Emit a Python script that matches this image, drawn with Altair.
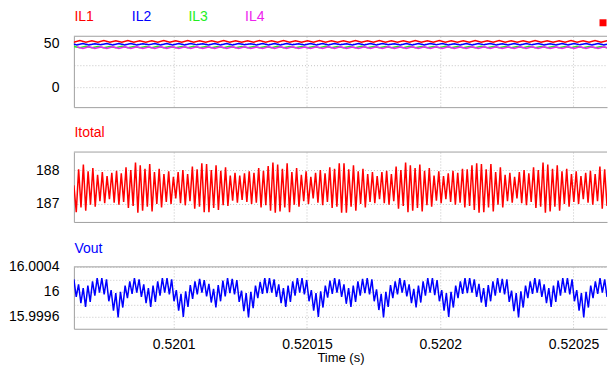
import altair as alt
import numpy as np
import pandas as pd

# ---------------- data ----------------
T_START = 0.52006255
T_END = 0.52026255
X_TICKS = [0.5201, 0.52015, 0.5202, 0.52025]

# inductor currents (alternating peak / trough), half-period spacing
IL_HALF_PERIOD = 2.2472e-6
IL1 = [52.9, 51.2, 53.0, 51.1, 52.8, 51.3, 53.0, 51.2, 52.9, 51.1,
       53.1, 51.2, 52.9, 51.3, 52.8, 51.2, 53.0, 51.1, 52.9, 51.2,
       53.0, 51.3, 52.8, 51.1, 52.9, 51.2, 53.1, 51.2, 52.9, 51.1,
       52.8, 51.3, 53.0, 51.2, 52.9, 51.1, 53.0, 51.2, 52.8, 51.3,
       52.9, 51.2, 53.1, 51.1, 52.9, 51.2, 52.8, 51.3, 53.0, 51.2,
       52.9, 51.1, 53.0, 51.2, 52.9, 51.3, 52.8, 51.1, 53.0, 51.2,
       52.9, 51.2, 53.1, 51.1, 52.9, 51.3, 52.8, 51.2, 53.0, 51.1,
       52.9, 51.2, 53.0, 51.3, 52.8, 51.2, 52.9, 51.1, 53.1, 51.2,
       52.9, 51.2, 52.8, 51.3, 53.0, 51.1, 52.9, 51.2, 53.0, 51.2,
       52.8, 51.3, 52.9, 51.1]
IL2 = [49.6, 48.1, 49.7, 48.0, 49.5, 48.2, 49.6, 48.1, 49.7, 48.1,
       49.6, 48.0, 49.5, 48.2, 49.7, 48.1, 49.6, 48.1, 49.6, 48.0,
       49.7, 48.2, 49.5, 48.1, 49.6, 48.1, 49.7, 48.0, 49.6, 48.2,
       49.5, 48.1, 49.6, 48.1, 49.7, 48.0, 49.6, 48.2, 49.5, 48.1,
       49.6, 48.1, 49.7, 48.0, 49.6, 48.2, 49.5, 48.1, 49.7, 48.1,
       49.6, 48.0, 49.6, 48.2, 49.5, 48.1, 49.7, 48.1, 49.6, 48.0,
       49.6, 48.2, 49.7, 48.1, 49.5, 48.1, 49.6, 48.0, 49.7, 48.2,
       49.6, 48.1, 49.5, 48.1, 49.6, 48.0, 49.7, 48.2, 49.6, 48.1,
       49.5, 48.1, 49.6, 48.0, 49.7, 48.2, 49.6, 48.1, 49.6, 48.1,
       49.5, 48.0, 49.7, 48.2]
IL3 = [46.4, 44.9, 46.5, 44.8, 46.3, 45.0, 46.4, 44.9, 46.5, 44.8,
       46.4, 45.0, 46.3, 44.9, 46.5, 44.8, 46.4, 44.9, 46.4, 45.0,
       46.5, 44.8, 46.3, 44.9, 46.4, 44.9, 46.5, 45.0, 46.4, 44.8,
       46.3, 44.9, 46.4, 44.9, 46.5, 45.0, 46.4, 44.8, 46.3, 44.9,
       46.4, 44.9, 46.5, 44.8, 46.4, 45.0, 46.3, 44.9, 46.5, 44.9,
       46.4, 44.8, 46.4, 45.0, 46.3, 44.9, 46.5, 44.9, 46.4, 44.8,
       46.4, 45.0, 46.5, 44.9, 46.3, 44.9, 46.4, 44.8, 46.5, 45.0,
       46.4, 44.9, 46.3, 44.9, 46.4, 44.8, 46.5, 45.0, 46.4, 44.9,
       46.3, 44.9, 46.4, 44.8, 46.5, 45.0, 46.4, 44.9, 46.4, 44.9,
       46.3, 44.8, 46.5, 45.0]
IL4 = [45.9, 44.1, 46.0, 44.0, 45.8, 44.2, 45.9, 44.1, 46.0, 44.0,
       45.9, 44.2, 45.8, 44.1, 46.0, 44.0, 45.9, 44.1, 45.9, 44.2,
       46.0, 44.0, 45.8, 44.1, 45.9, 44.1, 46.0, 44.2, 45.9, 44.0,
       45.8, 44.1, 45.9, 44.1, 46.0, 44.2, 45.9, 44.0, 45.8, 44.1,
       45.9, 44.1, 46.0, 44.0, 45.9, 44.2, 45.8, 44.1, 46.0, 44.1,
       45.9, 44.0, 45.9, 44.2, 45.8, 44.1, 46.0, 44.1, 45.9, 44.0,
       45.9, 44.2, 46.0, 44.1, 45.8, 44.1, 45.9, 44.0, 46.0, 44.2,
       45.9, 44.1, 45.8, 44.1, 45.9, 44.0, 46.0, 44.2, 45.9, 44.1,
       45.8, 44.1, 45.9, 44.0, 46.0, 44.2, 45.9, 44.1, 45.9, 44.1,
       45.8, 44.0, 46.0, 44.2]

# total current: one peak and one trough per ripple cycle
ITOTAL_PEAKS = [
    187.55, 188.02, 188.16, 187.96, 188.06, 187.86, 187.94, 187.82, 187.92, 187.98, 187.90, 188.08, 188.00, 188.22,
    188.14, 188.04, 188.18, 187.94, 188.04, 187.88, 187.96, 187.80, 187.94, 188.00, 187.88, 188.10, 188.02, 188.20,
    188.18, 188.00, 188.14, 187.98, 188.08, 187.84, 187.92, 187.84, 187.90, 187.96, 187.92, 188.06, 187.98, 188.12, 188.22,
    188.16, 188.04, 188.20, 187.94, 188.06, 187.86, 187.96, 187.80, 187.92, 188.00, 187.90, 188.08, 188.04, 188.20,
    188.20, 188.02, 188.14, 187.96, 188.04, 187.88, 187.94, 187.82, 187.94, 187.98, 187.88, 188.10, 188.00, 188.22,
    188.14, 188.06, 188.16, 187.98, 188.06, 187.84, 187.96, 187.82, 187.90, 187.98, 187.92, 188.04, 188.02, 188.14, 188.20,
    188.18, 188.02, 188.18, 187.94, 188.08, 187.86, 187.92, 187.80, 187.94, 188.00, 187.90, 188.08, 188.00, 188.22,
    188.16, 188.04, 188.14, 187.96, 188.04, 187.88, 187.96, 187.82, 187.92, 187.98, 187.88, 188.10, 188.02]
ITOTAL_TROUGHS = [
    186.76, 186.90, 186.80, 186.98, 186.92, 187.08, 187.02, 187.14, 187.04, 186.98, 187.06, 186.88, 186.94, 186.74,
    186.80, 186.92, 186.78, 187.00, 186.90, 187.06, 187.00, 187.16, 187.02, 186.96, 187.08, 186.86, 186.92, 186.76,
    186.76, 186.88, 186.82, 186.96, 186.94, 187.10, 187.04, 187.12, 187.06, 187.00, 187.04, 186.90, 186.96, 186.80, 186.74,
    186.78, 186.90, 186.76, 186.98, 186.92, 187.08, 187.00, 187.16, 187.04, 186.96, 187.06, 186.88, 186.92, 186.74,
    186.74, 186.92, 186.80, 187.00, 186.90, 187.06, 187.02, 187.14, 187.02, 186.98, 187.08, 186.86, 186.94, 186.76,
    186.80, 186.88, 186.78, 186.96, 186.92, 187.10, 187.02, 187.14, 187.06, 186.98, 187.04, 186.90, 186.94, 186.82, 186.74,
    186.76, 186.90, 186.78, 186.98, 186.90, 187.08, 187.04, 187.16, 187.02, 186.96, 187.06, 186.88, 186.92, 186.74,
    186.78, 186.92, 186.80, 187.00, 186.92, 187.06, 187.00, 187.14, 187.04, 186.98, 187.08, 186.86, 186.94]

# output voltage ripple around 16 V, in microvolts (peak / trough per cycle)
VOUT_NOMINAL = 16.0
VOUT_PEAKS_UV = [
    200, 120, 60, 100, 170, 220, 220, 200, 30,
    -20, 0, 100, 170, 220, 200, 120, 60, 100, 170, 220, 220, 200, 30,
    -30, 10, 110, 170, 210, 190, 130, 50, 110, 180, 220, 210, 190, 20,
    -20, 0, 100, 160, 220, 220, 200, 120, 60, 100, 170, 220, 220, 190, 30,
    -20, 10, 100, 180, 220, 200, 120, 60, 100, 170, 210, 220, 200, 40,
    -30, 0, 110, 170, 220, 190, 120, 50, 100, 170, 220, 220, 190, 30,
    -20, 0, 100, 170, 220, 220, 200, 130, 60, 110, 170, 220, 210, 200, 20,
    -20, 10, 100, 170, 220, 200, 120, 60, 100, 180, 220, 220, 200, 30,
    -20, 0, 100, 170, 220, 200]
VOUT_TROUGHS_UV = [
    -80, -180, -240, -160, -60, -10, -40, -150, -300,
    -410, -250, -100, -30, -10, -80, -180, -240, -160, -60, -10, -40, -150, -300,
    -400, -240, -110, -40, -10, -70, -170, -250, -150, -70, -20, -40, -160, -310,
    -410, -260, -100, -30, -20, -10, -80, -180, -240, -160, -60, -10, -40, -150, -300,
    -400, -250, -90, -30, -10, -80, -190, -240, -160, -60, -20, -40, -150, -290,
    -410, -240, -100, -40, -10, -70, -180, -250, -170, -60, -10, -50, -150, -300,
    -400, -250, -100, -30, -20, -10, -80, -170, -240, -150, -60, -10, -40, -160, -310,
    -410, -250, -100, -30, -10, -80, -180, -240, -160, -60, -10, -40, -150, -300,
    -410, -250, -100, -30, -10, -80]

COLORS = {"IL1": "#ff0000", "IL2": "#0000ff", "IL3": "#22ee22", "IL4": "#ee22ee"}

# ---------------- build tables ----------------
def interleave(peaks, troughs):
    out = []
    for p, t in zip(peaks, troughs):
        out += [p, t]
    return out

def even_time(n):
    return T_START + np.arange(n) * (T_END - T_START) / (n - 1)

il_frames = []
for k, (name, vals) in enumerate([("IL1", IL1), ("IL2", IL2), ("IL3", IL3), ("IL4", IL4)]):
    n = len(vals)
    t = T_START + (np.arange(n) - 1 + 0.5 * k) * IL_HALF_PERIOD
    il_frames.append(pd.DataFrame({"t": t, "v": vals, "s": name, "o": np.arange(n)}))
df_il = pd.concat(il_frames, ignore_index=True)

itot = interleave(ITOTAL_PEAKS, ITOTAL_TROUGHS)
df_itot = pd.DataFrame({"t": even_time(len(itot)), "v": itot})

vout = [VOUT_NOMINAL + u * 1e-6 for u in interleave(VOUT_PEAKS_UV, VOUT_TROUGHS_UV)]
df_vout = pd.DataFrame({"t": even_time(len(vout)), "v": vout})

# ---------------- chart ----------------
FONT = "Liberation Sans"
FS = 14
W = 534
BORDER = "#a0a0a0"

xscale = alt.Scale(domain=[T_START, T_END], nice=False, zero=False)

def x_axis(show):
    if show:
        return alt.Axis(values=X_TICKS, title="Time (s)", format=".5~f", labelPadding=9,
                        titlePadding=0, titleFontSize=13, grid=True, labelFlush=False)
    return alt.Axis(values=X_TICKS, title=None, labels=False, grid=True)

def text_layer(label, color, dx, dy):
    return alt.Chart(alt.Data(values=[{"k": 0}])).mark_text(
        text=label, color=color, font=FONT, fontSize=FS, align="left", baseline="middle"
    ).encode(x=alt.value(dx), y=alt.value(dy))

def top_border():
    return alt.Chart(alt.Data(values=[{"k": 0}])).mark_rule(color=BORDER, strokeWidth=1).encode(
        x=alt.value(0), x2=alt.value(W), y=alt.value(0))

# top panel: inductor currents
top_lines = alt.Chart(df_il).mark_line(strokeWidth=1.5, clip=True).encode(
    x=alt.X("t:Q", scale=xscale, axis=x_axis(False)),
    y=alt.Y("v:Q", scale=alt.Scale(domain=[-22.7, 58], nice=False, zero=False),
            axis=alt.Axis(values=[0, 25, 50], title=None,
                          labelExpr="datum.value == 25 ? '' : datum.label")),
    color=alt.Color("s:N", scale=alt.Scale(domain=list(COLORS), range=list(COLORS.values())), legend=None),
    order="o:Q",
)
marker = alt.Chart(alt.Data(values=[{"k": 0}])).mark_square(color="#ff0000", size=49, opacity=1).encode(
    x=alt.value(530), y=alt.value(-13.5))
top = alt.layer(
    top_lines,
    top_border(),
    text_layer("IL1", COLORS["IL1"], 0.5, -19),
    text_layer("IL2", COLORS["IL2"], 58, -19),
    text_layer("IL3", COLORS["IL3"], 114.7, -19),
    text_layer("IL4", COLORS["IL4"], 171.4, -19),
    marker,
).properties(width=W, height=71)

# middle panel: total current
mid_line = alt.Chart(df_itot).mark_line(color="#ff0000", strokeWidth=1.5, clip=True).encode(
    x=alt.X("t:Q", scale=xscale, axis=x_axis(False)),
    y=alt.Y("v:Q", scale=alt.Scale(domain=[186.47, 188.53], nice=False, zero=False),
            axis=alt.Axis(values=[187, 188], title=None)),
)
mid = alt.layer(mid_line, top_border(), text_layer("Itotal", "#ff0000", 0.5, -19)).properties(width=W, height=70)

# bottom panel: output voltage
vlabel = ("abs(datum.value - 16) < 1e-6 ? '16' : (abs(datum.value - 16.0004) < 1e-6 ? '16.0004' : "
          "(abs(datum.value - 15.9996) < 1e-6 ? '15.9996' : ''))")
bot_line = alt.Chart(df_vout).mark_line(color="#0000ff", strokeWidth=1.5, clip=True).encode(
    x=alt.X("t:Q", scale=xscale, axis=x_axis(True)),
    y=alt.Y("v:Q", scale=alt.Scale(domain=[15.99941, 16.000401], nice=False, zero=False),
            axis=alt.Axis(values=[15.9996, 15.9998, 16.0, 16.0002, 16.0004], title=None, labelExpr=vlabel)),
)
bot = alt.layer(bot_line, top_border(), text_layer("Vout", "#0000ff", 0.5, -18)).properties(width=W, height=62)

chart = alt.vconcat(top, mid, bot, spacing=45, bounds="flush").properties(
    padding={"left": 0, "top": 2, "right": 0, "bottom": 0},
    background="white",
).configure_view(
    stroke=None
).configure_axis(
    labelFont=FONT, labelFontSize=FS, labelColor="#000000",
    titleFont=FONT, titleFontSize=FS, titleColor="#000000", titleFontWeight="normal",
    ticks=False, domain=True, domainColor=BORDER, domainWidth=1, labelPadding=15,
    gridColor="#c4c4c4", gridDash=[1, 2], gridWidth=1,
)

chart.save("out.html", embed_options={"renderer": "svg", "actions": False})
